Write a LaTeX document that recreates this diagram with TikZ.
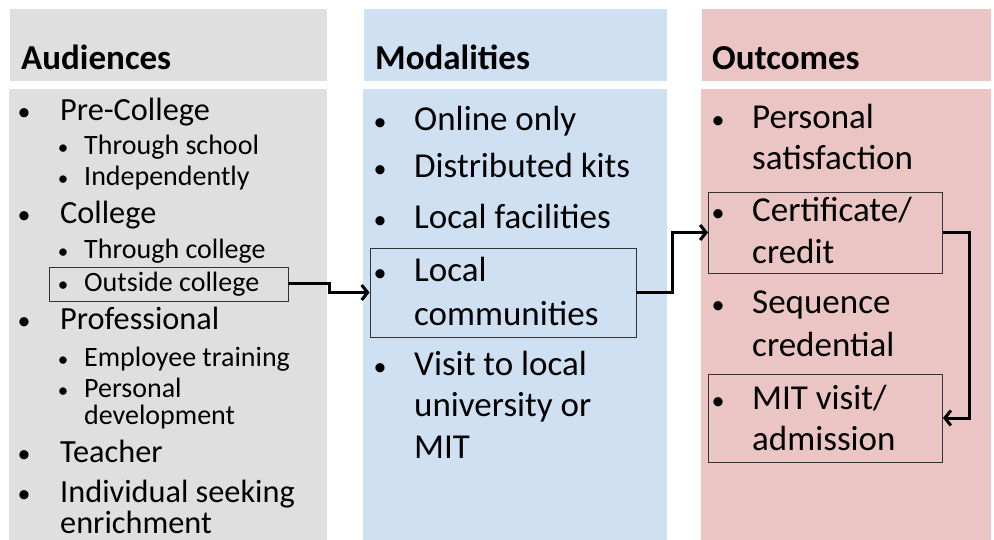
\documentclass[tikz,border=0pt]{standalone}
\usepackage{fontspec}
\setmainfont{Carlito}
\usetikzlibrary{arrows.meta}

\definecolor{audgray}{RGB}{223,223,223}
\definecolor{modblue}{RGB}{207,224,242}
\definecolor{outpink}{RGB}{235,196,196}

\begin{document}
\begin{tikzpicture}
  [x=1pt, y=-1pt]
  \tikzstyle{head} = [anchor=base west, inner sep=0pt, font=\fontsize{35}{40}\selectfont\bfseries];
  \tikzstyle{item} = [anchor=base west, inner sep=0pt, font=\fontsize{35}{40}\selectfont];
  \tikzstyle{left_item} = [item, font=\fontsize{32.3}{38}\selectfont];
  \tikzstyle{sub}  = [anchor=base west, inner sep=0pt, font=\fontsize{28}{32}\selectfont];
  \tikzstyle{bul}  = [anchor=base, inner sep=0pt, font=\fontsize{26}{30}\selectfont];
  \tikzstyle{subbul} = [anchor=base, inner sep=0pt, font=\fontsize{21}{26}\selectfont];
  \tikzstyle{box}  = [draw=black!80, line width=0.9pt, inner sep=0pt];
  \tikzstyle{conn} = [line width=3pt, -{Straight Barb[length=6pt, width=15pt]}];

  \useasboundingbox (0,0) rectangle (994,540);

  % column panels
  \fill[audgray] (10,9) rectangle (327,81);
  \fill[audgray] (9,89) rectangle (327,540);
  \fill[modblue] (364,9) rectangle (667,81);
  \fill[modblue] (363,89) rectangle (667,540);
  \fill[outpink] (702,9) rectangle (991,81);
  \fill[outpink] (701,89) rectangle (991,540);

  \node[head] (aud) at (21, 70) {Audiences};
  \node[head] (mod) at (375, 70) {Modalities};
  \node[head] (out) at (712, 70) {Outcomes};

  % audiences
  \node[bul] (b1) at (24, 121) {•};
  \node[left_item] (pre) at (60, 121) {Pre-College};
  \node[subbul] (s1) at (63, 155) {•};
  \node[sub] (school) at (84, 155) {Through school};
  \node[subbul] (s2) at (63, 186) {•};
  \node[sub] (indep) at (84, 186) {Independently};

  \node[bul] (b2) at (24, 224) {•};
  \node[left_item] (coll) at (60, 224) {College};
  \node[subbul] (s3) at (63, 259) {•};
  \node[sub] (thrcoll) at (84, 259) {Through college};
  \node[subbul] (s4) at (63, 291) {•};
  \node[sub] (outcoll) at (84, 291) {Outside college};

  \node[bul] (b3) at (24, 330) {•};
  \node[left_item] (prof) at (60, 330) {Professional};
  \node[subbul] (s5) at (63, 366) {•};
  \node[sub] (empl) at (84, 366) {Employee training};
  \node[subbul] (s6) at (63, 397) {•};
  \node[sub] (pers) at (84, 397) {Personal};
  \node[sub] (devel) at (84, 424) {development};

  \node[bul] (b4) at (24, 462) {•};
  \node[left_item] (teach) at (60, 462) {Teacher};
  \node[bul] (b5) at (24, 502) {•};
  \node[left_item] (indiv) at (60, 502) {Individual seeking};
  \node[left_item] (enrich) at (60, 533) {enrichment};

  % modalities
  \node[bul] (m1) at (380, 131) {•};
  \node[item] (online) at (414, 131) {Online only};
  \node[bul] (m2) at (380, 178) {•};
  \node[item] (kits) at (414, 178) {Distributed kits};
  \node[bul] (m3) at (380, 229) {•};
  \node[item] (facil) at (414, 229) {Local facilities};
  \node[bul] (m4) at (380, 282) {•};
  \node[item] (local) at (414, 282) {Local};
  \node[item] (commun) at (414, 325) {communities};
  \node[bul] (m5) at (380, 375) {•};
  \node[item] (visit) at (414, 375) {Visit to local};
  \node[item] (univ) at (414, 416) {university or};
  \node[item] (mit) at (414, 458) {MIT};

  % outcomes
  \node[bul] (o1) at (718, 129) {•};
  \node[item] (perssat) at (752, 129) {Personal};
  \node[item] (satis) at (752, 170) {satisfaction};
  \node[bul] (o2) at (718, 222) {•};
  \node[item] (cert) at (752, 222) {Certificate/};
  \node[item] (credit) at (752, 264) {credit};
  \node[bul] (o3) at (718, 313) {•};
  \node[item] (seq) at (752, 313) {Sequence};
  \node[item] (cred) at (752, 356) {credential};
  \node[bul] (o4) at (718, 409) {•};
  \node[item] (mitv) at (752, 409) {MIT visit/};
  \node[item] (admis) at (752, 450) {admission};

  % highlighted entries
  \node[box, minimum width=239pt, minimum height=34pt] (outbox) at (168.5, 284) {};
  \node[box, minimum width=266pt, minimum height=89pt] (lcbox) at (503, 292.5) {};
  \node[box, minimum width=234pt, minimum height=81pt] (certbox) at (825.5, 232.5) {};
  \node[box, minimum width=234pt, minimum height=88pt] (mitbox) at (825.5, 418) {};

  \draw[conn] (outbox.east) -- ++(41,0) |- (lcbox.west);
  \draw[conn] (lcbox.east) -- ++(36,0) |- (certbox.west);
  \draw[conn] (certbox.east) -- ++(27,0) |- (mitbox.east);

\end{tikzpicture}
\end{document}
